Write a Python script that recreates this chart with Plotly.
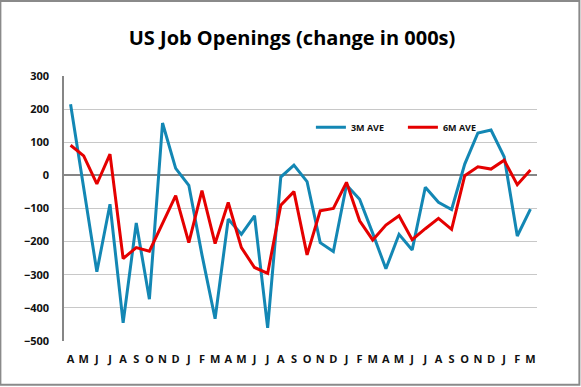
import plotly.graph_objects as go

months = ["A","M","J","J","A","S","O","N","D",
          "J","F","M","A","M","J","J","A","S","O","N","D",
          "J","F","M","A","M","J","J","A","S","O","N","D",
          "J","F","M"]

ave3m = [215, -38, -291, -87, -445, -144, -374, 158, 21,
         -30, -240, -433, -132, -178, -122, -460, -5, 31, -19, -203, -230,
         -29, -72, -175, -282, -178, -225, -36, -81, -103, 34, 128, 137,
         56, -183, -102]

ave6m = [91, 59, -26, 64, -251, -218, -229, -145, -61,
         -203, -46, -206, -82, -218, -278, -296, -90, -49, -240, -107, -100,
         -21, -137, -195, -150, -122, -194, -161, -130, -163, -1, 26, 19,
         46, -28, 16]

series_names = ["3M AVE", "6M AVE"]
colors = ["#1387b4", "#e50000"]

xidx = list(range(len(months)))

fig = go.Figure()
for name, vals, c in zip(series_names, [ave3m, ave6m], colors):
    fig.add_trace(go.Scatter(x=xidx, y=vals, mode="lines", name=name,
                             line=dict(color=c, width=3)))

tickfont = dict(family="Open Sans, DejaVu Sans, sans-serif", size=11, color="#111", weight="bold")

fig.update_layout(
    width=581, height=387,
    margin=dict(l=64, r=44, t=76, b=46),
    paper_bgcolor="white", plot_bgcolor="white",
    title=dict(text="<b>US Job Openings (change in 000s)</b>", x=0.5026, xref="container",
               xanchor="center", y=1 - 38/387, yanchor="middle",
               font=dict(family="Open Sans, DejaVu Sans, sans-serif", size=20, color="#000")),
    showlegend=True,
    legend=dict(orientation="h", x=0.522, y=0.807, xanchor="left", yanchor="middle",
                font=dict(family="Open Sans, DejaVu Sans, sans-serif", size=9, color="#111", weight="bold"),
                bgcolor="rgba(0,0,0,0)", entrywidth=47, entrywidthmode="pixels",
                itemwidth=30),
    xaxis=dict(range=[-0.5, len(months) - 0.5], tickmode="array", tickvals=xidx, ticktext=months,
               showgrid=False, zeroline=False, showline=False, ticks="",
               tickfont=tickfont, ticklabelstandoff=10, tickangle=0),
    yaxis=dict(range=[-500, 300], dtick=100, tick0=0, showgrid=True, gridcolor="#c8c8c8", gridwidth=1,
               zeroline=True, zerolinecolor="#868686", zerolinewidth=1.5,
               showline=True, linecolor="#868686", linewidth=1.5, ticks="",
               tickfont=tickfont, ticklabelstandoff=11),
    shapes=[dict(type="rect", xref="paper", yref="paper",
                 x0=-0.1345, x1=1.0896, y0=-0.1647, y1=1.2827,
                 fillcolor="rgba(0,0,0,0)",
                 line=dict(color="#8a8a8a", width=2), layer="above")],
)

fig.write_html("out.html", config={"displayModeBar": False},
               post_script="document.body.style.margin='0';")
